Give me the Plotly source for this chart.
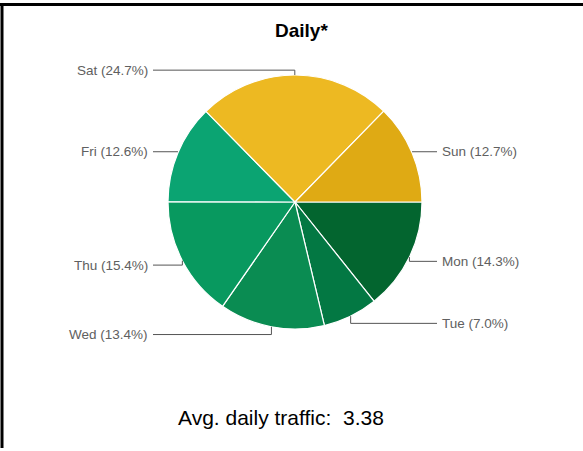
import math
import plotly.graph_objects as go

days = ["Mon", "Tue", "Wed", "Thu", "Fri", "Sat", "Sun"]
shares = [14.3, 7.0, 13.4, 15.4, 12.6, 24.7, 12.7]
colors = ["#03652F", "#037843", "#0A8C52", "#08995F", "#0BA472", "#EDB922", "#DFAA14"]
title_text = "Daily*"
footer_text = "Avg. daily traffic:&nbsp; 3.38"

W, H = 583, 451
CX, CY, R = 295, 202, 127  # pie centre / radius in pixels

def px(x):
    return x / W

def py(y):
    return 1 - y / H

fig = go.Figure(go.Pie(
    labels=days, values=shares, sort=False, direction="clockwise", rotation=90,
    marker=dict(colors=colors, line=dict(color="white", width=1.2)),
    textinfo="none", hoverinfo="label+percent", showlegend=False,
    domain=dict(x=[px(CX - R), px(CX + R)], y=[py(CY + R), py(CY - R)]),
))

shapes = []
annotations = []
total = sum(shares)
cum = 0.0
for d, v in zip(days, shares):
    mid = -(cum + v / 2) / total * 2 * math.pi
    cum += v
    ax = CX + R * math.cos(mid)
    ay = CY - R * math.sin(mid)
    ly = CY - R * 1.05 * math.sin(mid) + 1.5
    right = math.cos(mid) > 0
    lx = 437 if right else 153
    line_col = "#555555"
    shapes.append(dict(type="line", xref="paper", yref="paper",
                       x0=px(lx), y0=py(ly), x1=px(ax), y1=py(ly),
                       line=dict(color=line_col, width=1)))
    if abs(ly - ay) > 1:
        shapes.append(dict(type="line", xref="paper", yref="paper",
                           x0=px(ax), y0=py(ly), x1=px(ax), y1=py(ay),
                           line=dict(color=line_col, width=1)))
    annotations.append(dict(
        xref="paper", yref="paper", x=px(lx + (3 if right else -3)), y=py(ly),
        xanchor="left" if right else "right", yanchor="middle",
        text=f"{d} ({v:.1f}%)", showarrow=False,
        font=dict(family="Liberation Sans, Arial", size=13.5, color="#606060")))

# frame lines
shapes.append(dict(type="line", xref="paper", yref="paper", x0=0, x1=1,
                   y0=py(4.5), y1=py(4.5), line=dict(color="black", width=3)))
shapes.append(dict(type="line", xref="paper", yref="paper", x0=px(2), x1=px(2),
                   y0=py(4.5), y1=py(448), line=dict(color="black", width=3)))

annotations.append(dict(xref="paper", yref="paper", x=px(301), y=py(31),
                        xanchor="center", yanchor="middle", showarrow=False,
                        text=f"<b>{title_text}</b>",
                        font=dict(family="Liberation Sans, Arial", size=19, color="black")))
annotations.append(dict(xref="paper", yref="paper", x=px(280.5), y=py(417),
                        xanchor="center", yanchor="middle", showarrow=False,
                        text=footer_text,
                        font=dict(family="Liberation Sans, Arial", size=21, color="black")))

fig.update_layout(width=W, height=H, margin=dict(l=0, r=0, t=0, b=0),
                  paper_bgcolor="white", plot_bgcolor="white",
                  shapes=shapes, annotations=annotations)
fig.write_html("out.html")
